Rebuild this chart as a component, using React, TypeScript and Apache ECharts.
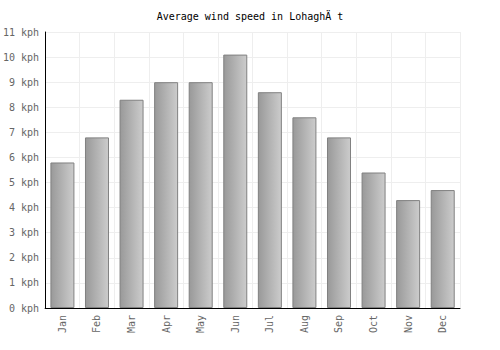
import React, { useEffect, useRef } from "react";
import * as echarts from "echarts";

const months = ["Jan", "Feb", "Mar", "Apr", "May", "Jun", "Jul", "Aug", "Sep", "Oct", "Nov", "Dec"];
const windSpeed = [5.8, 6.8, 8.3, 9.0, 9.0, 10.1, 8.6, 7.6, 6.8, 5.4, 4.3, 4.7];
const titleText = "Average wind speed in LohaghÄ t";

export default function App() {
  const ref = useRef<HTMLDivElement>(null);
  useEffect(() => {
    if (!ref.current) return;
    const chart = echarts.init(ref.current, null, { renderer: "svg" });
    const font = "'DejaVu Sans Mono', monospace";
    chart.setOption({
      animation: false,
      title: {
        text: titleText,
        left: "center",
        top: 6,
        textStyle: { fontFamily: font, fontSize: 10, fontWeight: "normal", color: "#000" },
      },
      grid: { left: 40, right: 40, top: 32, bottom: 42 },
      xAxis: {
        type: "category",
        data: months,
        axisLine: { lineStyle: { color: "#000", width: 1 } },
        axisTick: { show: false },
        axisLabel: { rotate: 90, color: "#666", fontFamily: font, fontSize: 10, margin: 7 },
        splitLine: { show: true, lineStyle: { color: "#eeeeee" } },
      },
      yAxis: {
        type: "value",
        min: 0,
        max: 11,
        interval: 1,
        axisLine: { show: true, lineStyle: { color: "#000", width: 1 } },
        axisTick: { show: false },
        axisLabel: { formatter: "{value} kph", color: "#666", fontFamily: font, fontSize: 10, margin: 6 },
        splitLine: { show: true, lineStyle: { color: "#eeeeee" } },
      },
      series: [
        {
          type: "bar",
          data: windSpeed,
          barWidth: 24,
          itemStyle: {
            color: new echarts.graphic.LinearGradient(0, 0, 1, 0, [
              { offset: 0, color: "#999999" },
              { offset: 1, color: "#cccccc" },
            ]),
            borderColor: "#808080",
            borderWidth: 1,
          },
        },
      ],
    });
    return () => chart.dispose();
  }, []);
  return <div ref={ref} style={{ position: "absolute", left: 0, top: 0, width: 500, height: 350 }} />;
}
